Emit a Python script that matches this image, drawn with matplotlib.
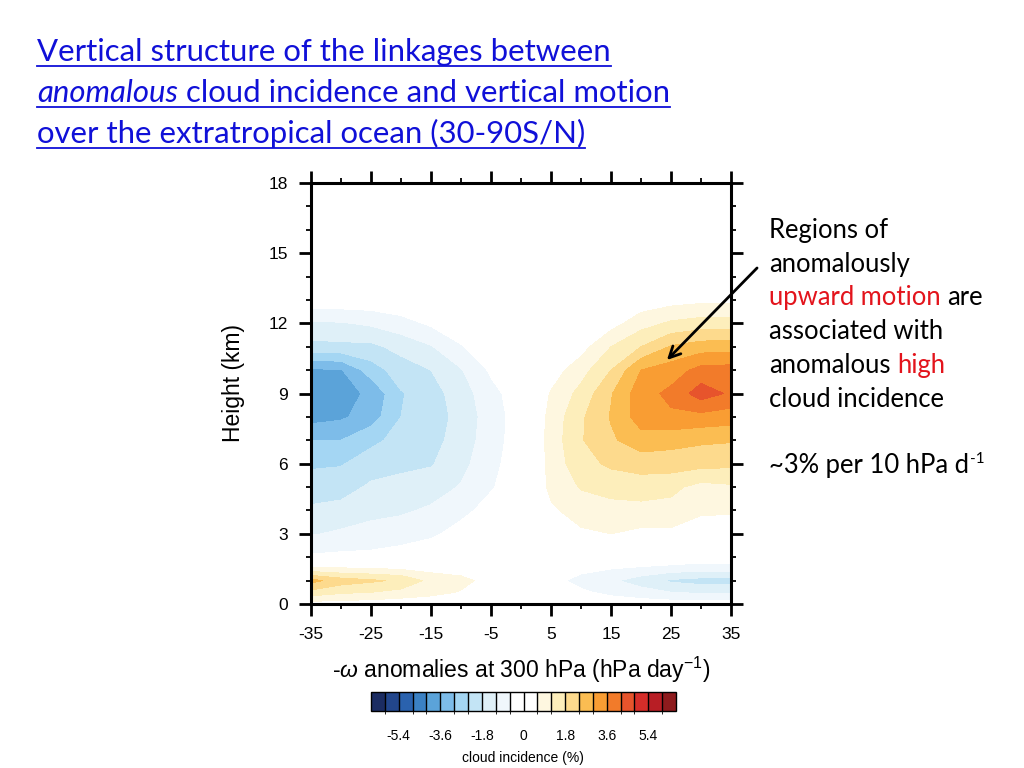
import numpy as np
import matplotlib
matplotlib.use("Agg")
import matplotlib.pyplot as plt
from matplotlib.colors import ListedColormap, BoundaryNorm
from matplotlib.cm import ScalarMappable
from matplotlib.lines import Line2D

plt.rcParams['font.family'] = ['Liberation Sans', 'DejaVu Sans']
plt.rcParams['axes.unicode_minus'] = False
plt.rcParams['mathtext.fontset'] = 'custom'
plt.rcParams['mathtext.rm'] = 'Liberation Sans'
plt.rcParams['mathtext.it'] = 'Liberation Sans:italic'

# -omega anomaly bins (hPa/day) and heights (km)
omega = [-35, -30, -25, -20, -15, -10, -5, 0, 5, 10, 15, 20, 25, 30, 35]
height = [0, 0.5, 1, 1.5, 2, 3, 4, 5, 6, 7, 8, 9, 10, 11, 12, 13, 14, 18]

# cloud incidence anomaly (%), one row per height
cloud = [
    [0.3, 0.3, 0.25, 0.2, 0.15, 0.1, 0.05, 0, -0.1, -0.2, -0.25, -0.3, -0.3, -0.3, -0.3],
    [1.6, 1.3, 1.2, 1.0, 0.8, 0.55, 0.3, 0.1, -0.2, -0.5, -0.75, -0.95, -1.2, -1.3, -1.3],
    [2.6, 2.1, 1.9, 1.7, 1.0, 0.8, 0.35, 0.05, -0.4, -0.8, -1.1, -1.5, -1.9, -2.05, -2.1],
    [0.8, 0.7, 0.65, 0.55, 0.4, 0.3, 0.15, 0, -0.2, -0.45, -0.6, -0.75, -0.9, -1.0, -1.0],
    [-0.5, -0.45, -0.45, -0.35, -0.2, -0.1, 0, 0, 0, 0, 0.05, 0, -0.05, -0.2, -0.2],
    [-1.25, -1.1, -0.95, -0.85, -0.7, -0.4, -0.2, -0.1, 0.3, 0.5, 0.6, 0.45, 0.45, 0.25, 0.1],
    [-1.7, -1.6, -1.4, -1.3, -1.1, -0.75, -0.4, -0.2, 0.5, 0.85, 0.95, 1.0, 1.0, 0.7, 0.7],
    [-2.1, -2.05, -1.7, -1.6, -1.5, -1.15, -0.65, -0.25, 0.75, 1.25, 1.45, 1.5, 1.35, 1.0, 1.1],
    [-2.5, -2.45, -2.1, -1.95, -1.85, -1.4, -0.75, -0.3, 0.8, 1.6, 1.9, 2.05, 2.1, 2.0, 1.95],
    [-3.0, -3.0, -2.55, -2.2, -2.0, -1.55, -0.85, -0.3, 0.85, 1.75, 2.3, 2.75, 2.6, 2.5, 2.45],
    [-3.85, -3.7, -3.3, -2.4, -2.1, -1.6, -0.9, -0.3, 0.8, 1.7, 2.45, 3.3, 3.5, 3.4, 3.3],
    [-3.9, -3.8, -3.5, -2.45, -2.05, -1.5, -0.8, -0.25, 0.65, 1.4, 2.35, 3.35, 3.75, 4.5, 4.1],
    [-3.7, -3.65, -2.7, -2.1, -1.8, -1.25, -0.5, -0.15, 0.3, 0.95, 1.8, 3.0, 3.3, 3.8, 3.85],
    [-2.0, -1.95, -1.95, -1.6, -1.25, -0.65, -0.2, -0.05, 0.05, 0.35, 1.2, 1.8, 2.45, 2.7, 2.75],
    [-1.3, -1.25, -1.1, -0.85, -0.5, -0.2, 0, 0, 0, 0.05, 0.35, 0.95, 1.3, 1.45, 1.45],
    [-0.2, -0.2, -0.2, -0.1, 0, 0, 0, 0, 0, 0, 0.05, 0.2, 0.35, 0.45, 0.45],
    [0] * 15,
    [0] * 15,
]

x_ticks = [-35, -25, -15, -5, 5, 15, 25, 35]
y_ticks = [0, 3, 6, 9, 12, 15, 18]
levels = np.round(np.arange(-6.0, 6.01, 0.6), 2)
cbar_ticks = [-5.4, -3.6, -1.8, 0, 1.8, 3.6, 5.4]
colors = ['#1b2c62', '#22468c', '#2a62ae', '#3b81c4', '#5ba3d9', '#7dbce9',
          '#a4d6f3', '#c3e4f5', '#dff0f8', '#f0f7fc', '#ffffff', '#ffffff',
          '#fef7e0', '#fdeebb', '#fdda8d', '#fbbd52', '#f99d33', '#f27b2a',
          '#e7542c', '#d62d29', '#b81e25', '#8e1b1d']

cmap = ListedColormap(colors[1:-1])
cmap.set_under(colors[0])
cmap.set_over(colors[-1])
norm = BoundaryNorm(levels, cmap.N)

W, H = 1024, 768
fig = plt.figure(figsize=(W / 100, H / 100), dpi=100)
ax = fig.add_axes([311 / W, 1 - 604 / H, 420 / W, 421 / H])

X, Y = np.meshgrid(omega, height)
ax.contourf(X, Y, np.array(cloud), levels=levels, cmap=cmap, norm=norm,
            extend='both', antialiased=False)

ax.set_xlim(-35, 35)
ax.set_ylim(0, 18)
ax.set_xticks(x_ticks)
ax.set_xticks(np.arange(-35, 36, 5), minor=True)
ax.set_yticks(y_ticks)
ax.set_yticks(np.arange(0, 19, 1), minor=True)
ax.tick_params(which='both', direction='out', top=True, right=True,
               labeltop=False, labelright=False)
ax.tick_params(which='major', length=8.5, width=2, labelsize=12.5, pad=8)
ax.tick_params(which='minor', length=3.8, width=1.3)
for sp in ax.spines.values():
    sp.set_linewidth(2.2)

ax.set_xlabel('-$\\omega$ anomalies at 300 hPa (hPa day$^{-1}$)', fontsize=16.5, labelpad=9)
ax.set_ylabel('Height (km)', fontsize=16.5)
ax.yaxis.set_label_coords(-0.157, 0.525)

# colour bar
cax = fig.add_axes([371 / W, 1 - 711 / H, 305 / W, 19 / H])
cb = fig.colorbar(ScalarMappable(norm=norm, cmap=cmap), cax=cax,
                  orientation='horizontal', extend='both', extendrect=True,
                  extendfrac='auto', drawedges=True, ticks=cbar_ticks)
cb.outline.set_linewidth(1.0)
cb.dividers.set_linewidth(1.0)
cb.ax.tick_params(length=0, labelsize=10, pad=13)
cb.ax.set_xticklabels(['-5.4', '-3.6', '-1.8', '0', '1.8', '3.6', '5.4'])
fig.text(523 / W, 1 - 758 / H, 'cloud incidence (%)', fontsize=10,
         ha='center', va='center')

# arrow to the upward-motion maximum
ax.annotate('', xy=(665, H - 362), xycoords='figure pixels',
            xytext=(759, H - 266), textcoords='figure pixels',
            arrowprops=dict(arrowstyle='->', lw=2, color='black', mutation_scale=20))

renderer = fig.canvas.get_renderer()
TFONT = ['Lato', 'DejaVu Sans']


def text_width(s, size, style='normal'):
    t = fig.text(0, 0, s, fontsize=size, family=TFONT, style=style)
    w = t.get_window_extent(renderer).width
    t.remove()
    return w


def draw_line(x_px, y_px, parts, size, underline=None):
    gap = text_width('n n', size) - text_width('nn', size)
    x = x_px
    for i, (s, col, sty) in enumerate(parts):
        if i > 0:
            x += gap
        t = fig.text(x / W, 1 - y_px / H, s, fontsize=size, color=col, style=sty,
                     family=TFONT, ha='left', va='baseline')
        x += t.get_window_extent(renderer).width
    if underline:
        fig.add_artist(Line2D([x_px / W, x / W], [1 - (y_px + 5) / H] * 2,
                              color=underline, lw=1.3, transform=fig.transFigure))
    return x


# title
blue = '#1010d8'
tsize = 20 * 575 / text_width('Vertical structure of the linkages between', 20)
draw_line(37, 61, [('Vertical structure of the linkages between', blue, 'normal')],
          tsize, underline=blue)
draw_line(37, 102, [('anomalous', blue, 'italic'),
                    ('cloud incidence and vertical motion', blue, 'normal')],
          tsize, underline=blue)
draw_line(37, 143, [('over the extratropical ocean (30-90S/N)', blue, 'normal')],
          tsize, underline=blue)

# side note
red = '#e3141c'
k = 'black'
nsize = 20 * 174 / text_width('associated with', 20)
draw_line(769, 238, [('Regions of', k, 'normal')], nsize)
draw_line(769, 272, [('anomalously', k, 'normal')], nsize)
draw_line(769, 305, [('upward motion', red, 'normal'), ('are', k, 'normal')], nsize)
draw_line(769, 339, [('associated with', k, 'normal')], nsize)
draw_line(769, 373, [('anomalous', k, 'normal'), ('high', red, 'normal')], nsize)
draw_line(769, 407, [('cloud incidence', k, 'normal')], nsize)
xe = draw_line(769, 473, [('~3% per 10 hPa d', k, 'normal')], nsize)
fig.text((xe + 1) / W, 1 - 463 / H, '-1', fontsize=nsize * 0.6, family=TFONT,
         ha='left', va='baseline')

fig.savefig('out.png', dpi=100)
